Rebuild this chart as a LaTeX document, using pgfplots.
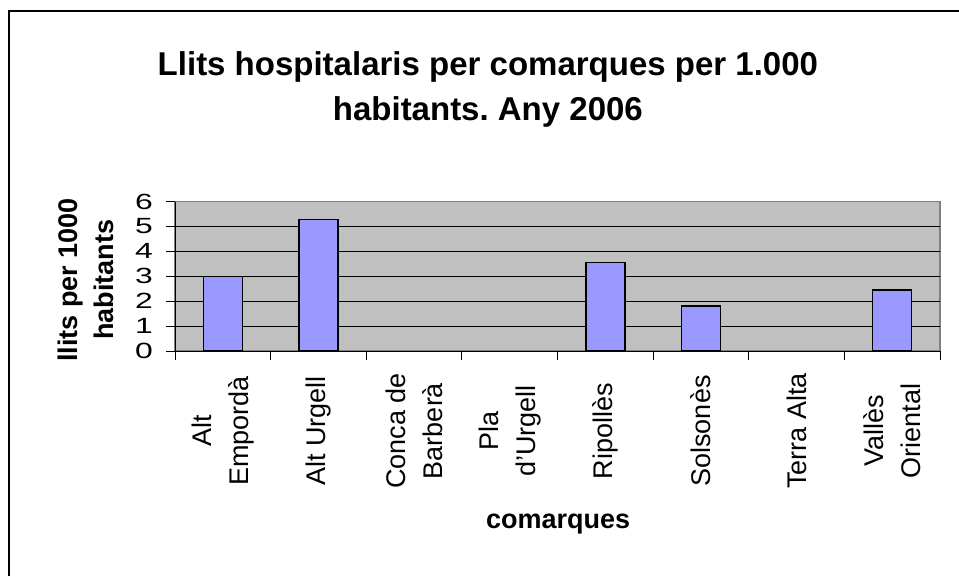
\documentclass[border=0pt]{standalone}
\usepackage{fontspec}
\setmainfont{Liberation Sans}
\usepackage{pgfplots}
\pgfplotsset{compat=1.18}
\definecolor{barblue}{HTML}{9999FF}
\definecolor{plotgray}{HTML}{C0C0C0}
\definecolor{bordergray}{HTML}{808080}
\newcommand{\yt}[1]{\scalebox{1.45}[1]{#1}}
\frenchspacing
\begin{document}
\begin{tikzpicture}[x=1pt,y=1pt]
\useasboundingbox (0,0) rectangle (959,576);
\draw[line width=1.5pt] (9,0) -- (9,565) -- (960,565);
\begin{axis}[
  at={(175pt,225pt)}, anchor=south west,
  scale only axis, width=765pt, height=149.5pt,
  xmin=-0.5, xmax=7.5, ymin=0, ymax=6,
  axis background/.style={fill=plotgray, draw=bordergray, line width=1.2pt},
  axis x line*=bottom, axis y line*=left,
  axis line style={black, line width=1pt},
  tick align=outside, major tick length=9pt,
  tick style={black, line width=0.8pt},
  ytick={0,...,6},
  yticklabels={\yt{0},\yt{1},\yt{2},\yt{3},\yt{4},\yt{5},\yt{6}},
  yticklabel style={font=\fontsize{22}{22}\selectfont, anchor=east, inner sep=0pt, xshift=-13pt},
  extra y ticks={1,...,5}, extra y tick labels={},
  extra y tick style={grid=major, major tick length=0pt},
  grid style={black, line width=0.8pt},
  xtick={-0.5,0.5,...,7.5}, xticklabels={},
  extra x ticks={0,...,7},
  extra x tick labels={Alt\\Empordà, Alt Urgell, Conca de\\Barberà, Pla\\d'Urgell, Ripollès, Solsonès, Terra Alta, Vallès\\Oriental},
  extra x tick style={major tick length=0pt},
  xticklabel style={yshift=-80pt, rotate=90, anchor=center, align=center, inner sep=0pt,
    font=\fontsize{27}{37}\selectfont},
  title={Llits hospitalaris per comarques per 1.000\\habitants. Any 2006},
  title style={font=\fontsize{33}{45}\selectfont\bfseries, align=center, anchor=center,
    inner sep=0pt, at={(axis description cs:0.409,1.709)}},
  xlabel={comarques},
  xlabel style={font=\fontsize{27}{27}\selectfont\bfseries, anchor=center, inner sep=0pt,
    at={(axis description cs:0.5007,-1.155)}},
  ylabel={llits per 1000\\habitants},
  ylabel style={font=\fontsize{27}{36}\selectfont\bfseries, align=center, anchor=center,
    inner sep=0pt, at={(axis description cs:-0.1163,0.475)}},
]
\addplot[ybar, bar width=39pt, fill=barblue, draw=black, line width=1.4pt]
  coordinates {(0,3.0) (1,5.27) (4,3.55) (5,1.81) (7,2.45)};
\end{axis}
\end{tikzpicture}
\end{document}
